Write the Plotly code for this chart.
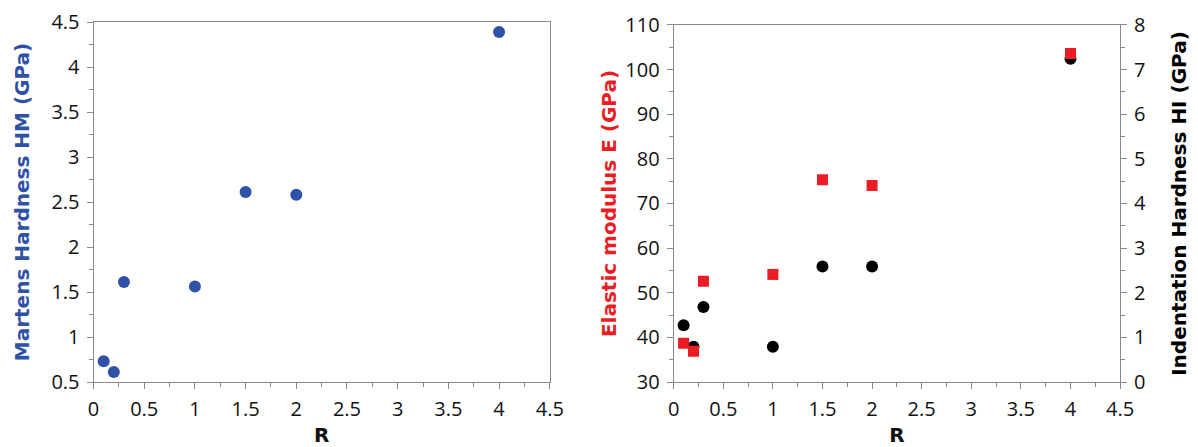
import plotly.graph_objects as go

# Data
R = [0.1, 0.2, 0.3, 1.0, 1.5, 2.0, 4.0]
HM = [0.73, 0.61, 1.61, 1.56, 2.61, 2.58, 4.39]
E = [38.7, 36.9, 52.6, 54.1, 75.3, 74.0, 103.6]
HI = [1.27, 0.79, 1.68, 0.79, 2.59, 2.59, 7.24]

BLUE = "#2F52A6"
RED = "#EC1C24"
BLACK = "#000000"
FRAME = "#8a8a8a"
TICKFONT = "Open Sans"
TITLEFONT = "DejaVu Sans"

W, H = 1198, 447

fig = go.Figure()

fig.add_trace(go.Scatter(x=R, y=HM, mode="markers", xaxis="x", yaxis="y",
                         marker=dict(symbol="circle", size=12, color=BLUE),
                         showlegend=False))
fig.add_trace(go.Scatter(x=R, y=HI, mode="markers", xaxis="x2", yaxis="y2",
                         marker=dict(symbol="circle", size=12, color=BLACK),
                         showlegend=False))
fig.add_trace(go.Scatter(x=R, y=E, mode="markers", xaxis="x2", yaxis="y3",
                         marker=dict(symbol="square", size=11, color=RED),
                         showlegend=False))

tickfont = dict(family=TICKFONT, size=20, color="#111111")
titlefont = dict(family=TITLEFONT, size=20)

common = dict(showline=True, linecolor=FRAME, linewidth=1, ticks="outside",
              ticklen=6, tickcolor=FRAME, tickwidth=1, showgrid=False,
              zeroline=False, tickfont=tickfont, ticklabelstandoff=3)

xcommon = dict(common, range=[0, 4.5], dtick=0.5, tick0=0, mirror=True,
               minor=dict(ticks="outside", ticklen=4, dtick=0.25, tickcolor=FRAME),
               title=dict(text="<b>R</b>", font=dict(titlefont, color="#111111"), standoff=11))

top, bot = 22, 389
ph = bot - top

fig.update_layout(
    width=W, height=H,
    margin=dict(l=0, r=0, t=top, b=H - bot),
    paper_bgcolor="white", plot_bgcolor="white",
    xaxis=dict(xcommon, domain=[89 / W, 553 / W], anchor="y"),
    yaxis=dict(common, range=[0.5, 4.5], dtick=0.5, tick0=0.5, mirror=True,
               anchor="x", domain=[0, 1],
               minor=dict(ticks="outside", ticklen=4, dtick=0.25, tickcolor=FRAME),
               title=dict(text="<b>Martens Hardness HM (GPa)</b>",
                          font=dict(titlefont, color=BLUE), standoff=16)),
    xaxis2=dict(xcommon, domain=[679 / W, 1133 / W], anchor="y2"),
    yaxis2=dict(common, range=[0, 8], dtick=1, tick0=0, side="right",
                anchor="x2", domain=[0, (bot - 25) / ph],
                minor=dict(ticks="outside", ticklen=4, dtick=0.5, tickcolor=FRAME),
                title=dict(text="<b>Indentation Hardness HI (GPa)</b>",
                           font=dict(titlefont, color=BLACK), standoff=26)),
    yaxis3=dict(common, range=[30, 110], dtick=10, tick0=30, side="left",
                overlaying="y2", anchor="x2",
                minor=dict(ticks="outside", ticklen=4, dtick=5, tickcolor=FRAME),
                title=dict(text="<b>Elastic modulus E (GPa)</b>",
                           font=dict(titlefont, color=RED), standoff=3)),
)

fig.write_html("out.html", config={"displayModeBar": False},
               post_script="document.body.style.margin='0';document.body.style.overflow='hidden';")
